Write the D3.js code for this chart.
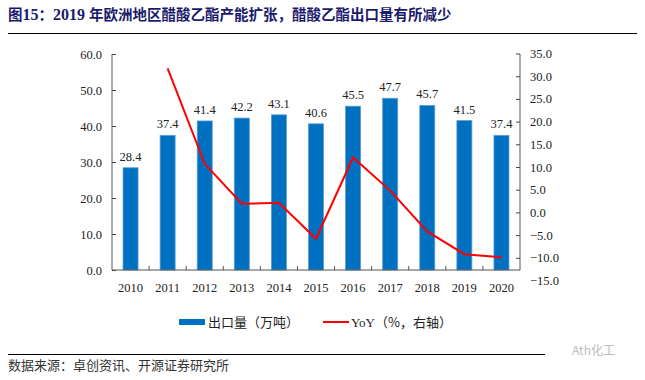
<!DOCTYPE html>
<html><head><meta charset="utf-8">
<script src="https://cdn.jsdelivr.net/npm/d3@7"></script>
<style>
body{margin:0;background:#fff;}
svg{display:block;}
</style></head>
<body>
<svg id="c" width="645" height="380"></svg>
<script>
const years = ["2010","2011","2012","2013","2014","2015","2016","2017","2018","2019","2020"];
const exportVol = [28.4,37.4,41.4,42.2,43.1,40.6,45.5,47.7,45.7,41.5,37.4];
const yoy = [null,31.7,10.7,1.9,2.1,-5.8,12.1,4.8,-4.2,-9.2,-9.9];
const leftTicks = [0,10,20,30,40,50,60];
const rightTicks = [35,30,25,20,15,10,5,0,-5,-10,-15];

const svg = d3.select("#c");
const serif = "'Liberation Serif','Times New Roman',serif";
const cjk = "'Noto Sans CJK SC','Noto Sans',sans-serif";

// title
const title = svg.append("text").attr("x",8).attr("y",20)
  .attr("font-size",14.5).attr("font-weight","bold").attr("fill","#1b1b6b").attr("font-family",cjk);
title.append("tspan").text("图");
title.append("tspan").attr("font-family",serif).attr("font-size",16).text("15");
title.append("tspan").text("：");
title.append("tspan").attr("font-family",serif).attr("font-size",16).text("2019 ");
title.append("tspan").text("年欧洲地区醋酸乙酯产能扩张，醋酸乙酯出口量有所减少");
svg.append("line").attr("x1",8).attr("x2",637).attr("y1",33.5).attr("y2",33.5).attr("stroke","#000").attr("stroke-width",1);

const x0 = 112, x1 = 520, yTop = 54, yBot = 270;
const x = d3.scaleBand().domain(years).range([x0,x1]).paddingInner(0).paddingOuter(0);
const yL = d3.scaleLinear().domain([0,60]).range([yBot,yTop]);
const yR = d3.scaleLinear().domain([-15,35]).range([280.5,53.5]);

// bars
const bw = 15;
svg.append("g").selectAll("rect").data(exportVol).join("rect")
  .attr("x",(d,i)=>x(years[i])+x.bandwidth()/2-bw/2)
  .attr("y",d=>yL(d)).attr("width",bw).attr("height",d=>yBot-yL(d))
  .attr("fill","#0070c0").attr("stroke","#5b9bd5").attr("stroke-width",0.8);

svg.append("g").selectAll("text").data(exportVol).join("text")
  .attr("x",(d,i)=>x(years[i])+x.bandwidth()/2)
  .attr("y",d=>yL(d)-7)
  .attr("text-anchor","middle").attr("font-family",serif).attr("font-size",12.5).attr("fill","#222")
  .text(d=>d.toFixed(1));

// axes
const gL = svg.append("g").attr("transform",`translate(${x0},0)`)
  .call(d3.axisLeft(yL).tickValues(leftTicks).tickSize(-4).tickPadding(10).tickFormat(d3.format(".1f")));
const gR = svg.append("g").attr("transform",`translate(${x1},0)`)
  .call(d3.axisRight(yR).tickValues(rightTicks).tickSize(-4).tickPadding(10).tickFormat(d3.format(".1f")));
const gX = svg.append("g").attr("transform",`translate(0,${yBot})`)
  .call(d3.axisBottom(x).tickSize(0).tickPadding(13));
[gL,gR,gX].forEach(g=>{
  g.select(".domain").remove();
  g.selectAll("text").attr("font-family",serif).attr("font-size",12.5).attr("fill","#222");
  g.selectAll("line").attr("stroke","#444");
});
gR.selectAll(".tick").filter(d=>d===-15).select("line").remove();
// axis lines
svg.append("line").attr("x1",x0).attr("x2",x0).attr("y1",yTop).attr("y2",yBot).attr("stroke","#555");
svg.append("line").attr("x1",x1).attr("x2",x1).attr("y1",yTop).attr("y2",yBot).attr("stroke","#555");
svg.append("line").attr("x1",x0).attr("x2",x1).attr("y1",yBot).attr("y2",yBot).attr("stroke","#555");
// x ticks at band boundaries, pointing up
svg.append("g").selectAll("line").data(years.slice(1)).join("line")
  .attr("x1",d=>x(d)).attr("x2",d=>x(d)).attr("y1",yBot).attr("y2",yBot-4).attr("stroke","#555");

// line
const line = d3.line().defined(d=>d!=null)
  .x((d,i)=>x(years[i])+x.bandwidth()/2).y(d=>yR(d));
svg.append("path").datum(yoy).attr("d",line).attr("fill","none")
  .attr("stroke","#ff0000").attr("stroke-width",2);

// legend
svg.append("rect").attr("x",179).attr("y",319).attr("width",26).attr("height",6).attr("fill","#0070c0");
svg.append("text").attr("x",208).attr("y",327).attr("font-family",cjk).attr("font-size",13).attr("fill","#222").text("出口量（万吨）");
svg.append("line").attr("x1",323).attr("x2",349).attr("y1",322).attr("y2",322).attr("stroke","#ff0000").attr("stroke-width",2);
const lt = svg.append("text").attr("x",351).attr("y",327).attr("font-size",13).attr("fill","#222").attr("font-family",cjk);
lt.append("tspan").attr("font-family",serif).text("YoY");
lt.append("tspan").text("（%，右轴）");

// footer
svg.append("line").attr("x1",8).attr("x2",545).attr("y1",354.5).attr("y2",354.5).attr("stroke","#000").attr("stroke-width",1);
svg.append("text").attr("x",8).attr("y",370).attr("font-family",cjk).attr("font-size",13).attr("fill","#333").text("数据来源：卓创资讯、开源证券研究所");
svg.append("text").attr("x",572).attr("y",355).attr("font-family",cjk).attr("font-size",12).attr("fill","#bbb").text("Ath化工");
</script>
</body></html>
